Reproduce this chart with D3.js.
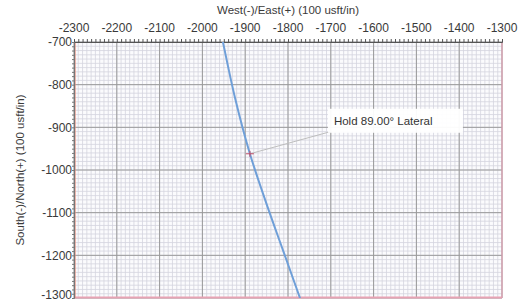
<!DOCTYPE html>
<meta charset="utf-8">
<style>
  body { margin: 0; background: #fff; }
  text { font-family: "Liberation Sans", Arial, sans-serif; fill: #3a3a3a; }
  .minor line { stroke: #d4d4de; stroke-width: 0.8; }
  .major line { stroke: #9a9a9a; stroke-width: 1; }
</style>
<body>
<script src="https://d3js.org/d3.v7.min.js"></script>
<script>
// tick values (100 usft/in)
var eastTicks = [-2300, -2200, -2100, -2000, -1900, -1800, -1700, -1600, -1500, -1400, -1300];
var northTicks = [-700, -800, -900, -1000, -1100, -1200, -1300];

// well path (East, North)
var pathEast  = [-1960, -1952, -1924, -1889, -1850, -1811, -1772, -1766];
var pathNorth = [-660, -700, -830, -962, -1080, -1190, -1300, -1317];

// annotation
var holdPoint = { e: -1889, n: -962, label: "Hold 89.00\u00b0 Lateral" };

(function(){
  var width = 531, height = 301,
      m = { left: 74, right: 29, top: 42, bottom: 3 };

  var svg = d3.select("body").append("svg")
      .attr("width", width).attr("height", height);

  var x = d3.scaleLinear().domain([-2300, -1300]).range([m.left, width - m.right]),
      y = d3.scaleLinear().domain([-700, -1300]).range([m.top, height - m.bottom]);

  var minorE = d3.range(-2300, -1299, 10),
      minorN = d3.range(-700, -1301, -10);

  svg.append("rect")
    .attr("x", x(-2300)).attr("y", y(-700))
    .attr("width", x(-1300) - x(-2300)).attr("height", y(-1300) - y(-700))
    .attr("fill", "#fbfbfd");

  // minor grid
  var g = svg.append("g").attr("class", "minor");
  g.selectAll(".v").data(minorE).enter().append("line")
    .attr("x1", d => x(d)).attr("x2", d => x(d))
    .attr("y1", y(-700)).attr("y2", y(-1300));
  g.selectAll(".h").data(minorN).enter().append("line")
    .attr("y1", d => y(d)).attr("y2", d => y(d))
    .attr("x1", x(-2300)).attr("x2", x(-1300));

  // major grid
  var gm = svg.append("g").attr("class", "major");
  gm.selectAll(".v").data(eastTicks).enter().append("line")
    .attr("x1", d => x(d)).attr("x2", d => x(d))
    .attr("y1", y(-700)).attr("y2", y(-1300));
  gm.selectAll(".h").data(northTicks).enter().append("line")
    .attr("y1", d => y(d)).attr("y2", d => y(d))
    .attr("x1", x(-2300)).attr("x2", x(-1300));

  // borders
  svg.append("line").attr("x1", x(-2300)).attr("x2", x(-1300))
    .attr("y1", y(-1300) - 0.5).attr("y2", y(-1300) - 0.5)
    .attr("stroke", "#e7a3b4").attr("stroke-width", 2);
  svg.append("line").attr("x1", x(-1300)).attr("x2", x(-1300))
    .attr("y1", y(-700)).attr("y2", y(-1300))
    .attr("stroke", "#e59aae").attr("stroke-width", 1);
  svg.append("line").attr("x1", x(-2300) + 1).attr("x2", x(-2300) + 1)
    .attr("y1", y(-700)).attr("y2", y(-1300))
    .attr("stroke", "#e58a7a").attr("stroke-width", 1.2);

  // top axis
  var top = svg.append("g").attr("transform", "translate(0," + y(-700) + ")");
  top.call(d3.axisTop(x).tickValues(minorE).tickSize(3).tickFormat(""))
    .call(a => a.select(".domain").attr("stroke", "#555"))
    .call(a => a.selectAll(".tick line").attr("stroke", "#555"));
  top.selectAll(".lbl").data(eastTicks).enter().append("text")
    .attr("x", d => x(d)).attr("y", -10)
    .attr("text-anchor", "middle").attr("font-size", 12)
    .text(d => d);

  // left axis
  var left = svg.append("g").attr("transform", "translate(" + x(-2300) + ",0)");
  left.call(d3.axisLeft(y).tickValues(minorN).tickSize(2).tickFormat(""))
    .call(a => a.select(".domain").attr("stroke", "#777"))
    .call(a => a.selectAll(".tick line").attr("stroke", "#777"));
  left.selectAll(".lbl").data(northTicks).enter().append("text")
    .attr("x", -2).attr("y", d => Math.min(y(d), height - 6)).attr("dy", "0.35em")
    .attr("text-anchor", "end").attr("font-size", 12)
    .text(d => d);

  // titles
  svg.append("text").attr("x", (x(-2300) + x(-1300)) / 2).attr("y", 14)
    .attr("text-anchor", "middle").attr("font-size", 11.5)
    .text("West(-)/East(+) (100 usft/in)");
  svg.append("text")
    .attr("transform", "translate(24," + ((y(-700) + y(-1300)) / 2) + ") rotate(-90)")
    .attr("text-anchor", "middle").attr("font-size", 11.5)
    .text("South(-)/North(+) (100 usft/in)");

  // well path
  svg.append("clipPath").attr("id", "clip").append("rect")
    .attr("x", x(-2300)).attr("y", y(-700))
    .attr("width", x(-1300) - x(-2300)).attr("height", y(-1300) - y(-700));
  var pts = pathEast.map((e, i) => [e, pathNorth[i]]);
  svg.append("path").datum(pts)
    .attr("clip-path", "url(#clip)")
    .attr("fill", "none").attr("stroke", "#6f9fd8").attr("stroke-width", 2)
    .attr("d", d3.line().x(d => x(d[0])).y(d => y(d[1])).curve(d3.curveCatmullRom));

  // annotation
  var hx = x(holdPoint.e), hy = y(holdPoint.n);
  svg.append("line").attr("x1", hx).attr("y1", hy).attr("x2", hx + 80).attr("y2", hy - 22)
    .attr("stroke", "#bdbdbd").attr("stroke-width", 1);
  svg.append("path")
    .attr("d", "M" + (hx - 4) + "," + hy + "H" + (hx + 4) + "M" + hx + "," + (hy - 3) + "V" + (hy + 3))
    .attr("stroke", "#c0506a").attr("stroke-width", 1);
  svg.append("rect").attr("x", hx + 78).attr("y", hy - 45)
    .attr("width", 135).attr("height", 24).attr("fill", "#fff").attr("opacity", 0.95);
  svg.append("text").attr("x", hx + 84).attr("y", hy - 29)
    .attr("font-size", 11.5).style("fill", "#333")
    .text(holdPoint.label);
})();
</script>
